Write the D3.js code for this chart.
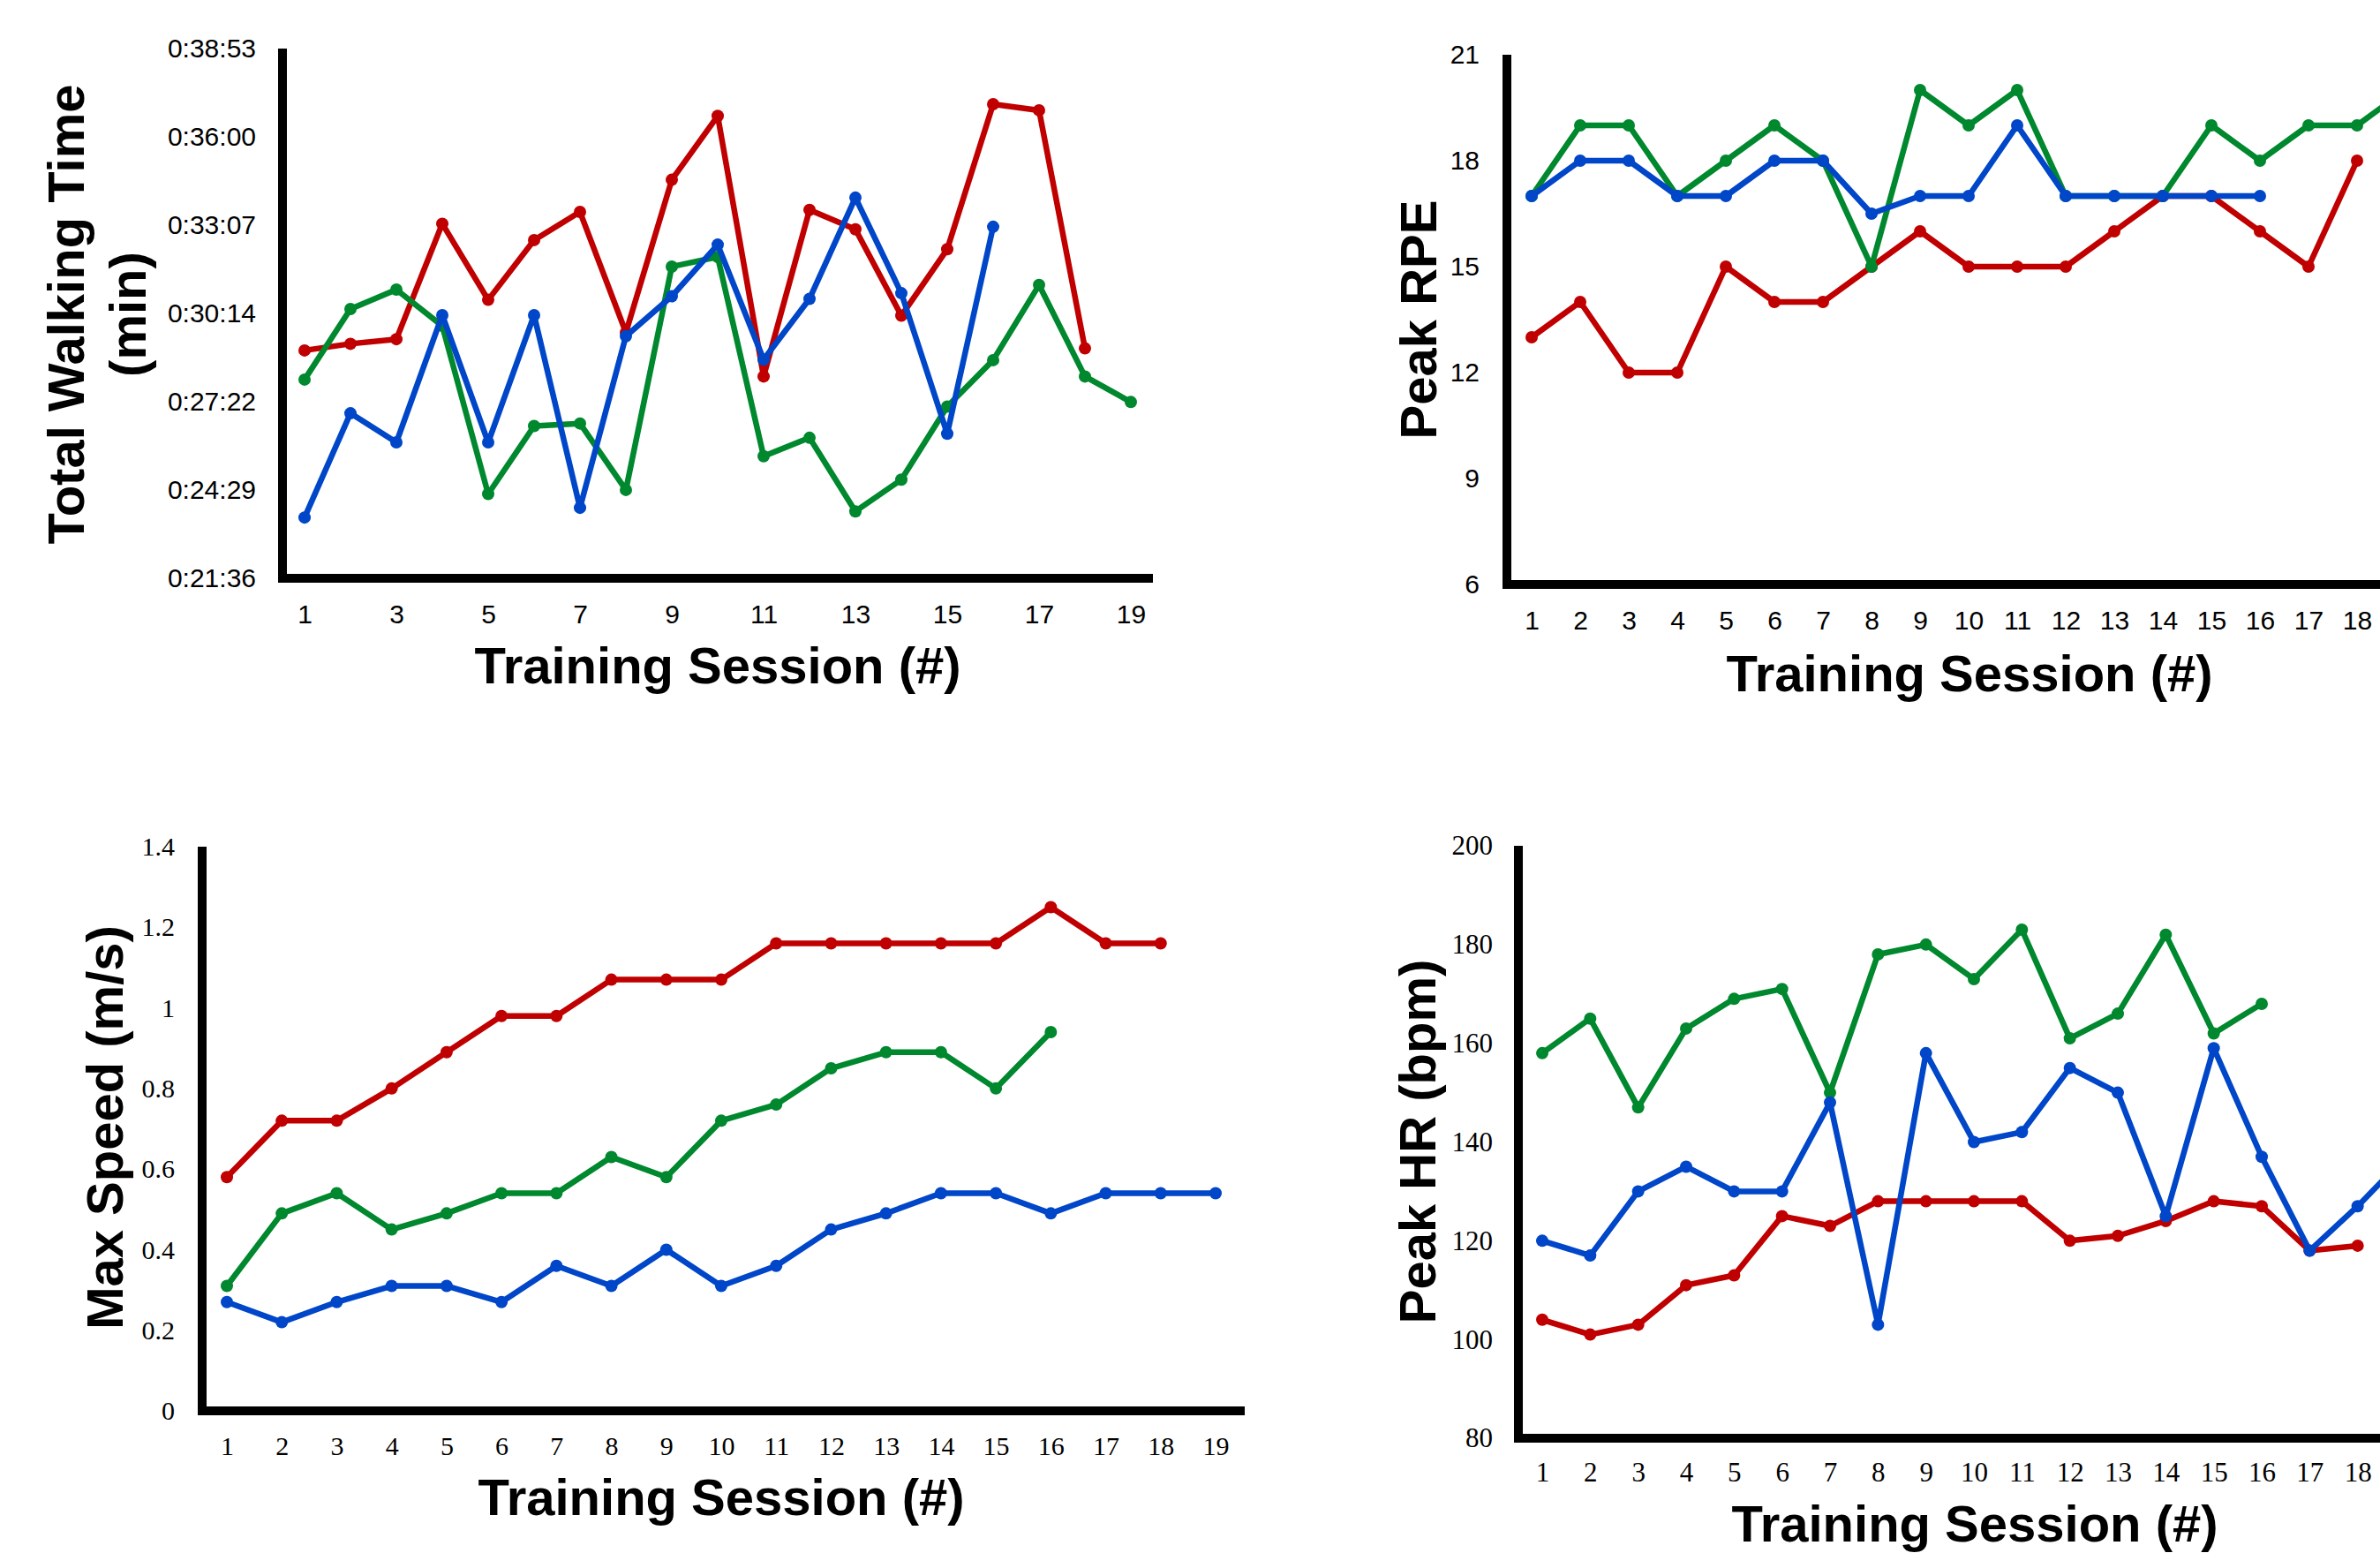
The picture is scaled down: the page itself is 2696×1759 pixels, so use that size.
<!DOCTYPE html>
<html>
<head>
<meta charset="utf-8">
<script src="https://cdn.jsdelivr.net/npm/d3@7"></script>
<style>
  html, body { margin: 0; padding: 0; background: #fff; overflow: hidden; }
</style>
</head>
<body>
<div id="chart"></div>
<script>
// sessions on the x axis
const sessions = [1, 2, 3, 4, 5, 6, 7, 8, 9, 10, 11, 12, 13, 14, 15, 16, 17, 18, 19];
const visibleSessions = [1, 2, 3, 4, 5, 6, 7, 8, 9, 10, 11, 12, 13, 14, 15, 16, 17, 18];

// Total walking time, in seconds
const walkRed   = [1742, 1755, 1764, 1990, 1841, 1958, 2013, 1777, 2076, 2201, 1691, 2017, 1979, 1810, 1940, 2224, 2212, 1746];
const walkGreen = [1685, 1823, 1861, 1790, 1461, 1594, 1599, 1469, 1906, 1925, 1535, 1571, 1427, 1489, 1632, 1723, 1870, 1691, 1641];
const walkBlue  = [1415, 1619, 1562, 1811, 1562, 1811, 1434, 1770, 1848, 1949, 1724, 1843, 2041, 1854, 1579, 1984];
const walkTicks = [1296, 1468.8, 1641.6, 1814.4, 1987.2, 2160, 2332.8];
const walkXTicks = [1, 3, 5, 7, 9, 11, 13, 15, 17, 19];

// Peak RPE
const rpeRed   = [13, 14, 12, 12, 15, 14, 14, 15, 16, 15, 15, 15, 16, 17, 17, 16, 15, 18];
const rpeGreen = [17, 19, 19, 17, 18, 19, 18, 15, 20, 19, 20, 17, 17, 17, 19, 18, 19, 19, 20];
const rpeBlue  = [17, 18, 18, 17, 17, 18, 18, 16.5, 17, 17, 19, 17, 17, 17, 17, 17];
const rpeTicks = [6, 9, 12, 15, 18, 21];

// Max speed (m/s)
const speedRed   = [0.58, 0.72, 0.72, 0.80, 0.89, 0.98, 0.98, 1.07, 1.07, 1.07, 1.16, 1.16, 1.16, 1.16, 1.16, 1.25, 1.16, 1.16];
const speedGreen = [0.31, 0.49, 0.54, 0.45, 0.49, 0.54, 0.54, 0.63, 0.58, 0.72, 0.76, 0.85, 0.89, 0.89, 0.80, 0.94];
const speedBlue  = [0.27, 0.22, 0.27, 0.31, 0.31, 0.27, 0.36, 0.31, 0.40, 0.31, 0.36, 0.45, 0.49, 0.54, 0.54, 0.49, 0.54, 0.54, 0.54];
const speedTicks = [0, 0.2, 0.4, 0.6, 0.8, 1, 1.2, 1.4];

// Peak HR (bpm)
const hrRed   = [104, 101, 103, 111, 113, 125, 123, 128, 128, 128, 128, 120, 121, 124, 128, 127, 118, 119];
const hrGreen = [158, 165, 147, 163, 169, 171, 150, 178, 180, 173, 183, 161, 166, 182, 162, 168];
const hrBlue  = [120, 117, 130, 135, 130, 130, 148, 103, 158, 140, 142, 155, 150, 125, 159, 137, 118, 127, 137];
const hrTicks = [80, 100, 120, 140, 160, 180, 200];

const colors = { red: "#c00000", green: "#00882e", blue: "#0046c8" };

const W = 2696, H = 1759;
const svg = d3.select("#chart").append("svg")
    .attr("width", W)
    .attr("height", H)
    .style("display", "block");

svg.append("rect").attr("width", W).attr("height", H).attr("fill", "#fff");

function fmtTime(s) {
    s = Math.round(s);
    const m = Math.floor(s / 60), sec = s % 60;
    return "0:" + String(m).padStart(2, "0") + ":" + String(sec).padStart(2, "0");
}

function panel(cfg) {
    const g = svg.append("g");

    const x = d3.scaleLinear().domain([1, 19]).range([cfg.x1, cfg.x19]);
    const y = d3.scaleLinear().domain(cfg.yDomain).range([cfg.bottom, cfg.top]);

    // tick labels (no tick marks)
    const yAxis = g.append("g")
        .attr("transform", "translate(" + cfg.axisX + ",0)")
        .call(d3.axisLeft(y).tickValues(cfg.yTicks).tickSize(0).tickPadding(cfg.yPad).tickFormat(cfg.yFormat));
    const xAxis = g.append("g")
        .attr("transform", "translate(0," + cfg.bottom + ")")
        .call(d3.axisBottom(x).tickValues(cfg.xTicks).tickSize(0).tickPadding(cfg.xPad).tickFormat(d3.format("d")));

    [yAxis, xAxis].forEach(a => {
        a.select(".domain").remove();
        a.selectAll("text")
            .attr("fill", "#000")
            .style("font-family", cfg.tickFont)
            .style("font-size", cfg.tickSize + "px");
    });

    // heavy axis lines
    g.append("line")
        .attr("x1", cfg.axisX).attr("x2", cfg.axisX)
        .attr("y1", cfg.top).attr("y2", cfg.bottom + 5)
        .attr("stroke", "#000").attr("stroke-width", 10);
    g.append("line")
        .attr("x1", cfg.axisX).attr("x2", cfg.xEnd)
        .attr("y1", cfg.bottom).attr("y2", cfg.bottom)
        .attr("stroke", "#000").attr("stroke-width", 10);

    const line = d3.line()
        .x((d, i) => x(sessions[i]))
        .y(d => y(d));

    cfg.series.forEach(s => {
        g.append("path")
            .datum(s.values)
            .attr("fill", "none")
            .attr("stroke", s.color)
            .attr("stroke-width", 6.5)
            .attr("stroke-linejoin", "round")
            .attr("d", line);
        g.selectAll(null)
            .data(s.values)
            .enter()
            .append("circle")
            .attr("cx", (d, i) => x(sessions[i]))
            .attr("cy", d => y(d))
            .attr("r", 7)
            .attr("fill", s.color);
    });

    // axis titles
    const titleFont = "'Liberation Sans', Arial, sans-serif";
    g.append("text")
        .attr("x", cfg.xTitle[0])
        .attr("y", cfg.xTitle[1])
        .attr("text-anchor", "middle")
        .style("font-family", titleFont)
        .style("font-weight", "bold")
        .style("font-size", "58px")
        .text("Training Session (#)");

    cfg.yTitle.forEach(t => {
        g.append("text")
            .attr("transform", "translate(" + t.x + "," + t.y + ") rotate(-90)")
            .attr("text-anchor", "middle")
            .style("font-family", titleFont)
            .style("font-weight", "bold")
            .style("font-size", "58px")
            .text(t.text);
    });
}

const sansTicks = "'Liberation Sans', Arial, sans-serif";
const serifTicks = "'Liberation Serif', 'Times New Roman', serif";

// top left: walking time
panel({
    axisX: 320, top: 55, bottom: 655, x1: 345, x19: 1281, xEnd: 1306,
    yDomain: [1296, 2332.8], yTicks: walkTicks, yFormat: fmtTime, yPad: 30,
    xTicks: walkXTicks, xPad: 30,
    tickFont: sansTicks, tickSize: 30,
    series: [
        { values: walkRed, color: colors.red },
        { values: walkGreen, color: colors.green },
        { values: walkBlue, color: colors.blue }
    ],
    xTitle: [813, 774],
    yTitle: [
        { text: "Total Walking Time", x: 95, y: 356 },
        { text: "(min)", x: 165, y: 356 }
    ]
});

// top right: peak RPE
panel({
    axisX: 1707, top: 62, bottom: 662, x1: 1735, x19: 2725, xEnd: 2700,
    yDomain: [6, 21], yTicks: rpeTicks, yFormat: d3.format("d"), yPad: 31,
    xTicks: visibleSessions, xPad: 30,
    tickFont: sansTicks, tickSize: 30,
    series: [
        { values: rpeRed, color: colors.red },
        { values: rpeGreen, color: colors.green },
        { values: rpeBlue, color: colors.blue }
    ],
    xTitle: [2231, 783],
    yTitle: [{ text: "Peak RPE", x: 1627, y: 362 }]
});

// bottom left: max speed
panel({
    axisX: 229, top: 959, bottom: 1598, x1: 257, x19: 1377, xEnd: 1410,
    yDomain: [0, 1.4], yTicks: speedTicks, yFormat: d => String(+d.toFixed(1)), yPad: 31,
    xTicks: sessions, xPad: 29,
    tickFont: serifTicks, tickSize: 30,
    series: [
        { values: speedRed, color: colors.red },
        { values: speedGreen, color: colors.green },
        { values: speedBlue, color: colors.blue }
    ],
    xTitle: [817, 1716],
    yTitle: [{ text: "Max Speed (m/s)", x: 139, y: 1277 }]
});

// bottom right: peak HR
panel({
    axisX: 1720, top: 958, bottom: 1629, x1: 1747, x19: 2725, xEnd: 2700,
    yDomain: [80, 200], yTicks: hrTicks, yFormat: d3.format("d"), yPad: 29,
    xTicks: visibleSessions, xPad: 27,
    tickFont: serifTicks, tickSize: 31,
    series: [
        { values: hrRed, color: colors.red },
        { values: hrGreen, color: colors.green },
        { values: hrBlue, color: colors.blue }
    ],
    xTitle: [2237, 1746],
    yTitle: [{ text: "Peak HR (bpm)", x: 1626, y: 1293 }]
});
</script>
</body>
</html>
